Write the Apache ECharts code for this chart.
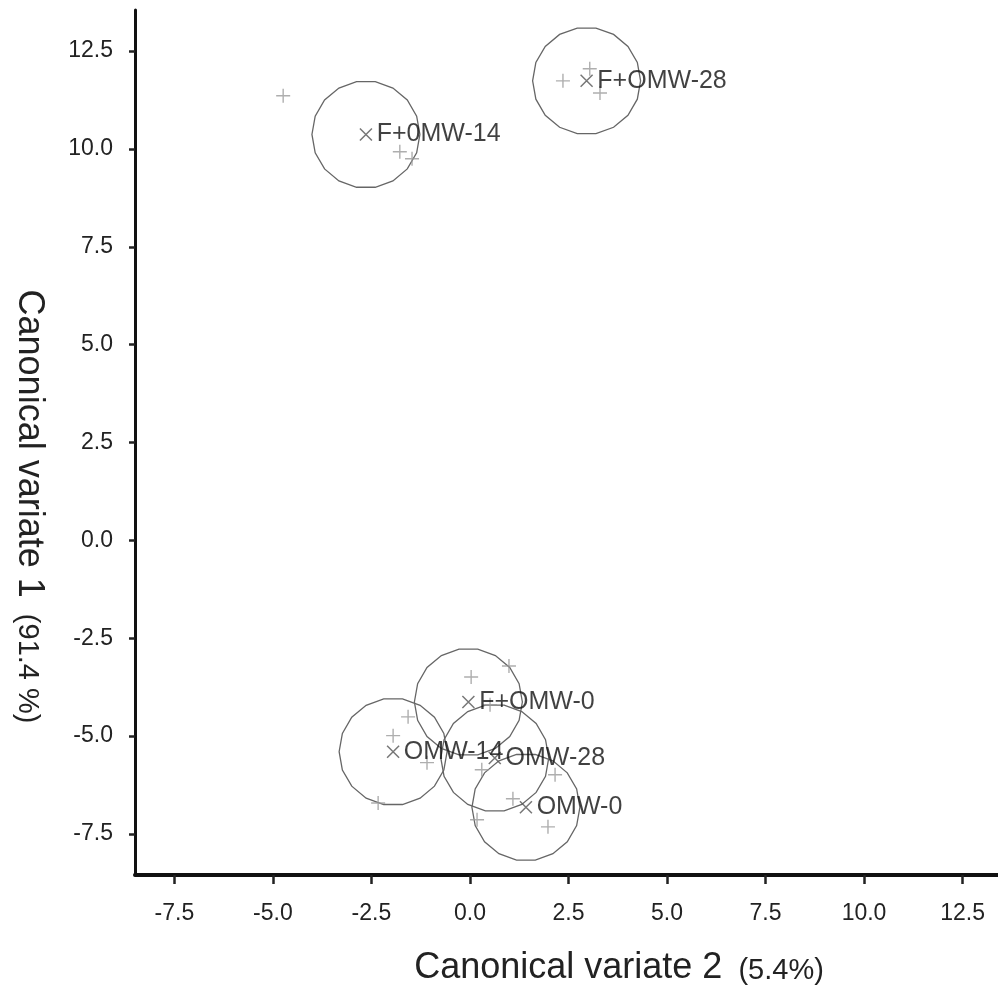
<!DOCTYPE html>
<html>
<head>
<meta charset="utf-8">
<title>Canonical variates</title>
<script src="https://cdn.jsdelivr.net/npm/echarts@6/dist/echarts.min.js"></script>
<style>
  html, body { margin: 0; padding: 0; background: #fff; }
  #chart { width: 998px; height: 987px; }
</style>
</head>
<body>
<div id="chart"></div>
<script>
// group means (x marks) with their labels
const groups = ['F+0MW-14', 'F+OMW-28', 'F+OMW-0', 'OMW-14', 'OMW-28', 'OMW-0'];
const meanX = [-2.64, 2.96, -0.04, -1.95, 0.63, 1.42];
const meanY = [10.37, 11.74, -4.13, -5.40, -5.56, -6.82];

// single samples (+ marks), three per group
const sampleX = [-4.74, -1.78, -1.47, 2.36, 3.04, 3.30, 0.03, 0.99, -1.09,
                 -1.57, -1.95, -2.33, 0.30, 1.09, 0.51, 0.18, 1.98, 2.16];
const sampleY = [11.36, 9.93, 9.75, 11.74, 12.05, 11.43, -3.49, -3.21, -5.68,
                 -4.51, -4.99, -6.71, -5.86, -6.60, -4.20, -7.14, -7.32, -5.99];

// radius of the circle round each mean, in axis units
const circleRadius = 1.37;

const xTicks = [-7.5, -5, -2.5, 0, 2.5, 5, 7.5, 10, 12.5];
const yTicks = [-7.5, -5, -2.5, 0, 2.5, 5, 7.5, 10, 12.5];

const chart = echarts.init(document.getElementById('chart'));

const font = 'Liberation Sans, Arial, sans-serif';
const plusPath = 'path://M0,5L10,5M5,0L5,10';
const crossPath = 'path://M0,0L10,10M10,0L0,10';

const axisCommon = {
  type: 'value',
  splitLine: { show: false },
  axisLine: { show: true, onZero: false, lineStyle: { color: '#111', width: 3 } },
  axisTick: { show: true, length: 6, lineStyle: { color: '#222', width: 2.5 } },
  axisLabel: {
    color: '#222',
    fontSize: 23,
    fontFamily: font,
    formatter: v => v.toFixed(1)
  }
};

const titleRich = {
  a: { fontSize: 36, color: '#222', fontFamily: font },
  b: { fontSize: 29, color: '#222', fontFamily: font, padding: [5, 0, 0, 0] }
};

const option = {
  animation: false,
  backgroundColor: '#fff',
  grid: { left: 135, right: 0, top: 10, bottom: 112, outerBoundsMode: 'none', containLabel: false },
  xAxis: Object.assign({}, axisCommon, {
    min: -8.5,
    max: 13.4,
    axisLine: { show: true, onZero: false, lineStyle: { color: '#111', width: 4 } },
    axisTick: Object.assign({}, axisCommon.axisTick, { length: 9, customValues: xTicks }),
    axisLabel: Object.assign({}, axisCommon.axisLabel, { margin: 27, customValues: xTicks }),
    name: '{a|Canonical variate 2}{b|  (5.4%)}',
    nameLocation: 'middle',
    nameGap: 75,
    nameTextStyle: { padding: [0, 0, 0, 105], rich: titleRich }
  }),
  yAxis: Object.assign({}, axisCommon, {
    min: -8.55,
    max: 13.55,
    axisTick: Object.assign({}, axisCommon.axisTick, { customValues: yTicks }),
    axisLabel: Object.assign({}, axisCommon.axisLabel, { margin: 22, customValues: yTicks }),
    name: '{a|Canonical variate 1}{b|  (91.4 %)}',
    nameLocation: 'middle',
    nameRotate: -90,
    nameGap: 88,
    nameTextStyle: { padding: [0, 0, 0, 128], rich: titleRich }
  }),
  series: [
    {
      // confidence circles, drawn as polygons like the original
      type: 'custom',
      z: 1,
      data: meanX.map((x, i) => [x, meanY[i]]),
      renderItem: function (params, api) {
        const c = api.coord([api.value(0), api.value(1)]);
        const s = api.size([circleRadius, circleRadius]);
        const pts = [];
        const n = 18;
        for (let k = 0; k < n; k++) {
          const a = (k / n) * Math.PI * 2;
          pts.push([c[0] + s[0] * Math.cos(a), c[1] + s[1] * Math.sin(a)]);
        }
        return {
          type: 'polygon',
          shape: { points: pts },
          style: { fill: 'none', stroke: '#666', lineWidth: 1.3 }
        };
      },
      silent: true
    },
    {
      type: 'scatter',
      z: 2,
      symbol: plusPath,
      symbolSize: 14,
      itemStyle: { color: 'transparent', borderColor: '#9a9a9a', borderWidth: 1.4 },
      data: sampleX.map((x, i) => [x, sampleY[i]])
    },
    {
      type: 'scatter',
      z: 3,
      symbol: crossPath,
      symbolSize: 12,
      itemStyle: { color: 'transparent', borderColor: '#555', borderWidth: 1.5 },
      data: meanX.map((x, i) => ({ value: [x, meanY[i]], name: groups[i] })),
      label: {
        show: true,
        position: 'right',
        distance: 4,
        formatter: p => p.name,
        color: '#111',
        fontSize: 25,
        fontFamily: font
      },
      labelLayout: { hideOverlap: false }
    }
  ]
};

chart.setOption(option);
</script>
</body>
</html>
